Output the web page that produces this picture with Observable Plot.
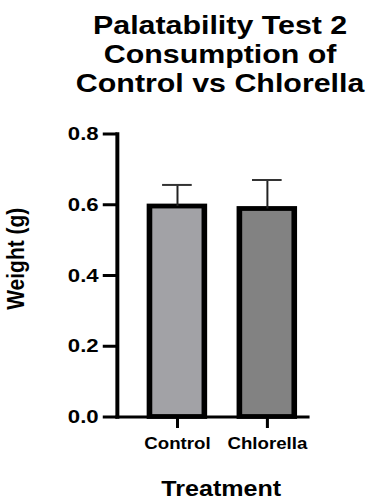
<!DOCTYPE html>
<html>
<head>
<meta charset="utf-8">
<script src="https://cdn.jsdelivr.net/npm/d3@7"></script>
<script src="https://cdn.jsdelivr.net/npm/@observablehq/plot@0.6"></script>
<style>
  html, body { margin: 0; padding: 0; background: #fff; overflow: hidden; }
  #wrap { width: 316px; transform: scaleX(1.1677); transform-origin: 0 0; font-family: "Liberation Sans", Arial, sans-serif; }
  #title { height: 100px; box-sizing: border-box; padding-top: 10.5px; padding-left: 61px; text-align: center;
           font-size: 26px; line-height: 29px; font-weight: bold; color: #000; }
  svg { display: block; }
</style>
</head>
<body>
<div id="wrap">
  <div id="title">Palatability Test 2<br>Consumption of<br>Control vs Chlorella</div>
  <div id="chart"></div>
</div>
<script>
const categories = ["Control", "Chlorella"];
const means = [0.595, 0.588];
const sems = [0.061, 0.082];
const colors = ["#a2a2a6", "#828282"];
const yTicks = [0, 0.2, 0.4, 0.6, 0.8];
const xTitle = "Treatment";
const yTitle = "Weight (g)";

const data = categories.map((c, i) => ({category: c, mean: means[i], sem: sems[i]}));

const plot = Plot.plot({
  width: 316,
  height: 404,
  marginTop: 33.5,
  marginBottom: 87.5,
  marginLeft: 100,
  marginRight: 53,
  style: {fontFamily: "'Liberation Sans', Arial, sans-serif", fontWeight: "bold", color: "#000", background: "#fff"},
  x: {type: "band", domain: categories, paddingInner: 0.39, paddingOuter: 0.248, align: 0.73, label: null},
  y: {domain: [0, 0.8], label: null},
  color: {domain: categories, range: colors},
  marks: [
    Plot.barY(data, {x: "category", y: "mean", fill: "category", stroke: "#000", strokeWidth: 4.8}),
    Plot.ruleX(data, {x: "category", y1: "mean", y2: d => d.mean + d.sem, stroke: "#222", strokeWidth: 1.7}),
    Plot.tickY(data, {x: "category", y: d => d.mean + d.sem, stroke: "#333", strokeWidth: 2, insetLeft: 10.8, insetRight: 10.8}),
    Plot.axisY({ticks: yTicks, tickFormat: d3.format(".1f"), tickSize: 12, tickPadding: 4, fontSize: 19, fontWeight: "bold", strokeWidth: 3, label: null}),
    Plot.axisX({tickSize: 11.5, tickPadding: 9, fontSize: 16, fontWeight: "bold", strokeWidth: 2.6, label: null}),
    Plot.frame({anchor: "left", strokeWidth: 3.4}),
    Plot.frame({anchor: "bottom", strokeWidth: 3.2}),
    Plot.text([xTitle], {frameAnchor: "bottom", textAnchor: "middle", lineAnchor: "top", dx: 7.5, dy: 64, fontSize: 21.5, fontWeight: "bold"}),
    Plot.text([yTitle], {frameAnchor: "left", textAnchor: "middle", rotate: -90, lineAnchor: "middle", dx: -86.3, dy: -16.75, fontSize: 21, fontWeight: "bold"})
  ]
});
document.getElementById("chart").appendChild(plot);
</script>
</body>
</html>
